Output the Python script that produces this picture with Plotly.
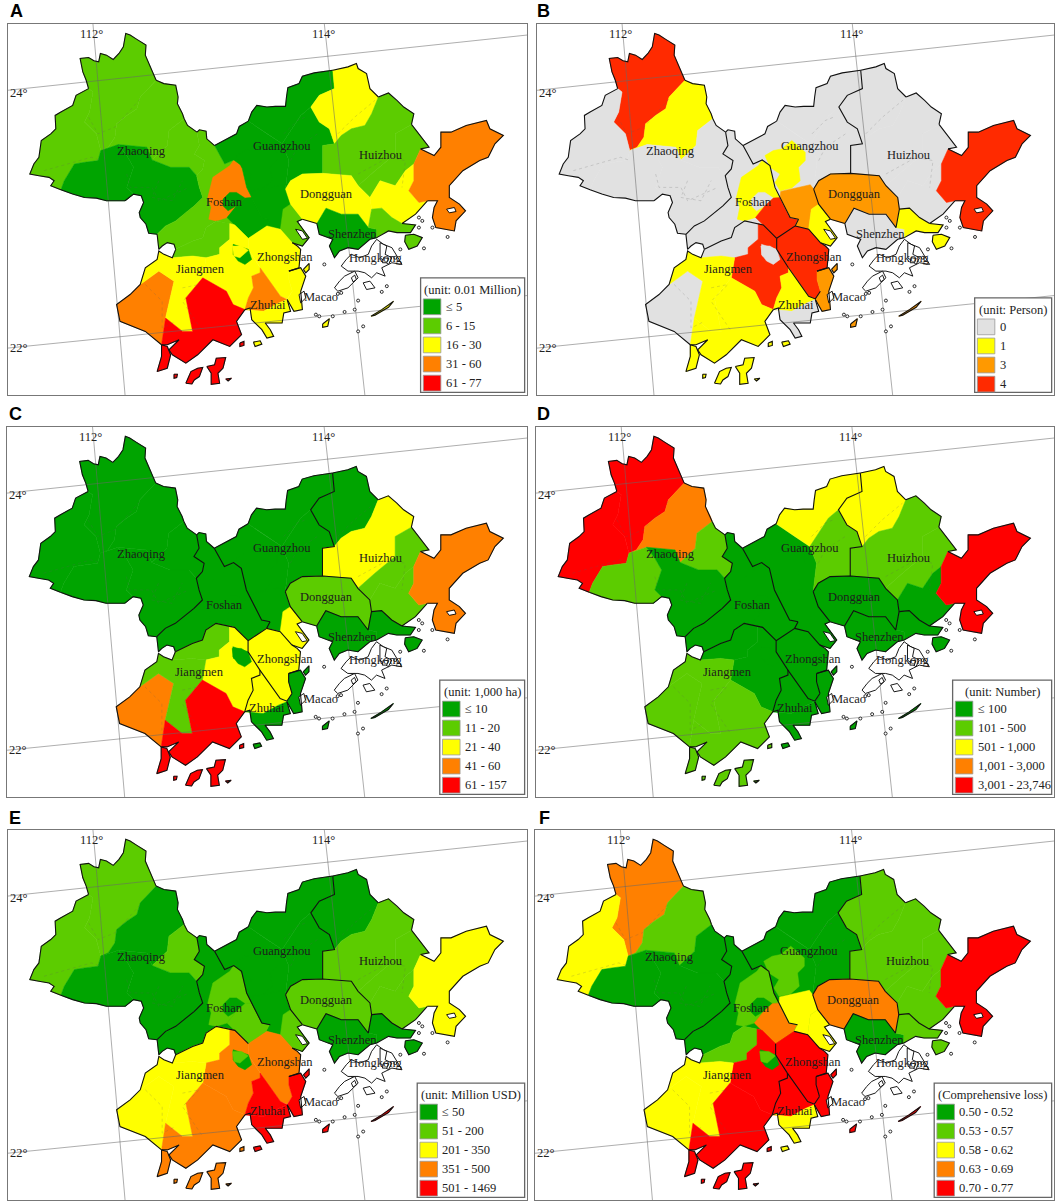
import plotly.graph_objects as go

# map outline, all arcs in the same map units (axes below)
COAST_Z1 = [(262,265),(255,240),(245,215),(237,175),(262,172),(278,182),(292,185),(297,160),(315,165),(335,178),(352,160),(365,140),(372,100),(385,105),(405,118),(432,135),(430,165),(440,190),(448,210),(462,240)]
COAST_Z2 = [(462,240),(485,250),(520,255),(527,290),(525,310),(540,340),(545,355)]
COAST_Z6 = [(545,355),(555,375),(583,395)]
COAST_Z3 = [(180,567),(160,560),(150,555),(160,540),(145,530),(115,525),(88,520),(100,490),(115,470),(122,420),(150,400),(165,385),(163,345),(180,335),(215,315),(225,285),(262,265)]
COAST_Z4 = [(180,567),(215,580),(250,590),(285,592),(315,600),(345,600),(370,600)]
COAST_Z5 = [(465,700),(440,697),(432,670),(415,650),(412,635),(425,605),(418,585),(395,580),(370,600)]
Z1_Z2 = [(462,240),(415,290),(405,325),(375,345),(345,370),(340,410),(320,440),(298,450)]
Z1_Z3 = [(262,265),(275,275),(265,335),(250,365),(285,400),(298,450)]
Z3_Z4 = [(298,450),(290,480),(250,485),(220,490),(190,540),(180,567)]
Z2_LOW_A = [(298,450),(350,432)]
Z2_LOW_B = [(350,432),(435,440),(450,478)]
Z2_LOW_C = [(450,478),(495,435),(500,390),(545,355)]
Z6_Z5 = [(582,525),(560,500),(505,500),(450,478)]
Z4_Z5 = [(370,600),(395,580),(375,560),(395,500),(375,465),(350,432)]
ZF_1 = [(583,395),(590,435),(575,460),(605,480),(600,505),(582,525)]
ZF_2 = [(582,525),(590,560),(600,590),(575,615),(550,635),(520,660),(490,675),(465,700)]

COAST_F_N = [(583,395),(590,388),(610,392),(612,415),(635,435)]
COAST_F_S = [(520,745),(515,730),(495,725),(480,735),(470,745),(465,700)]
FG = [(635,435),(665,490),(692,478),(715,495),(730,560),(745,590),(765,630),(775,650),(800,655)]
F_ZS = [(800,655),(790,675),(735,712)]
FJ = [(735,712),(695,672),(640,660),(610,680),(600,710),(570,720),(520,745)]

COAST_G_W = [(635,435),(665,420),(700,400),(708,378),(735,362)]
COAST_G_N = [(735,362),(745,335),(760,315),(790,320),(815,318),(845,318),(848,290),(852,262),(885,250),(895,228),(930,218),(985,210)]
GH_A = [(985,210),(990,265),(945,285),(920,320)]
GH_B = [(920,320),(945,365),(975,385),(990,430)]
GH_C = [(990,430),(955,435),(955,518)]
G1_G2 = [(920,320),(890,345),(835,430)]
G1_G3 = [(835,430),(790,400),(735,362)]
G2_G3 = [(835,430),(855,480),(845,565)]
DG_TOP_W = [(845,565),(860,540),(895,520),(955,518)]
DG_TOP_E = [(955,518),(1040,525),(1060,555)]
DG_E = [(1060,555),(1095,590),(1100,625),(1090,680)]
DG_S = [(1090,680),(1060,640),(1010,640),(965,622),(938,668)]
DG_COAST = [(938,668),(895,655)]
DG_W = [(895,655),(860,610),(845,565)]
COAST_G6 = [(895,655),(880,662),(915,710),(895,735),(865,725)]
G_ZS = [(865,725),(830,685),(790,675)]

COAST_H1 = [(985,210),(1010,205),(1030,200),(1055,190),(1060,205),(1085,220),(1095,265),(1120,290)]
H1_H2 = [(1120,290),(1100,340),(1080,375),(1040,385),(1010,405),(990,430)]
COAST_H2 = [(1120,290),(1150,278),(1175,300),(1195,320),(1225,340),(1218,372)]
H2_H3 = [(1218,372),(1170,400),(1170,460),(1110,510),(1060,555)]
COAST_H3 = [(1218,372),(1240,400),(1255,420),(1270,440),(1245,445)]
HW_1 = [(1245,445),(1225,490)]
HW_2 = [(1225,490),(1225,540),(1210,570),(1240,605),(1265,600)]
H3_H4 = [(1225,490),(1200,510),(1170,555),(1125,540),(1095,590)]
COAST_H4 = [(1265,600),(1230,640),(1190,668)]
HS = [(1100,625),(1130,622),(1160,650),(1190,668)]
COAST_W = [(1245,445),(1285,465),(1305,440),(1305,395),(1335,395),(1380,375),(1440,360),(1450,385),(1490,405),(1465,430),(1445,470),(1420,480),(1370,510),(1330,555),(1330,590),(1360,610),(1378,630),(1350,660),(1345,690),(1290,680),(1280,650),(1285,620),(1295,600),(1265,600)]
COAST_S2 = [(1190,668),(1230,672),(1215,695),(1175,695),(1150,690),(1130,700),(1115,710)]
S1_S2 = [(1090,680),(1115,685),(1115,710)]
COAST_S1 = [(1115,710),(1095,715),(1060,745),(1030,740),(1005,750),(990,770),(975,735),(985,715),(945,700),(938,668)]

ZS_E = [(865,725),(880,735),(890,745),(885,800),(855,810)]
ZS_Z3 = [(855,810),(855,835),(865,870)]
ZS_S = [(865,870),(850,893),(830,885),(790,830),(770,800)]
ZS_W = [(770,800),(735,745),(735,712)]
Z3_COAST = [(855,810),(890,800),(905,825),(890,870),(895,925),(870,930),(850,895)]
Z3_W = [(850,895),(865,870)]
ZH_N = [(770,800),(770,815),(745,825),(750,860),(735,890),(725,925)]
ZH_COAST = [(725,925),(740,920),(745,955),(775,985),(790,1010),(810,1005),(800,985),(785,965),(835,965),(840,935),(860,930),(850,895)]
ZH_MID = [(725,925),(780,930),(825,905),(850,895)]
ZH_MID_N = [(850,895),(830,885)]

J_COAST_E = [(725,925),(700,960),(715,1000),(680,1035),(630,1015),(585,1060),(550,1085),(510,1060),(500,1045),(530,1015),(495,1030),(478,1030)]
J_COAST_W = [(478,1030),(430,990),(355,960),(345,910),(385,880),(415,850),(430,800),(465,775),(470,750),(485,760),(510,770),(520,745)]
J1_LOW = [(510,770),(570,765),(610,770),(650,760),(650,740),(680,715),(680,668)]
J5_J6 = [(600,830),(550,890),(570,990),(540,990),(490,950)]
J4_E = [(415,850),(470,810),(515,840),(490,950),(478,1030)]
J7_RING = [(478,1030),(495,1035),(505,1060),(495,1100),(465,1110),(478,1065)]


def ring(*arcs):
    pts = []
    for arc in arcs:
        pts.extend(arc)
    return pts


def rev(arc):
    return arc[::-1]


COUNTY_NAMES = ["Z1", "Z3", "Z2", "Z6", "Z4", "Z5", "F1", "F2", "F3", "F4", "G3", "G1", "G2", "G4", "G5", "G6",
                "ZS", "H1", "H2", "H3", "H4", "W", "DG", "S1", "S2", "S3", "J1", "J2", "J3", "J8", "J4", "J5", "J6", "J7",
                "ZH1", "ZH2", "ZH3", "I1", "I2", "I3", "I4", "I5", "I6", "K1", "K2", "K3"]

COUNTY_RINGS = [
    ring(COAST_Z1, Z1_Z2, rev(Z1_Z3)),
    ring(COAST_Z3, Z1_Z3, Z3_Z4),
    ring(rev(Z1_Z2), COAST_Z2, rev(Z2_LOW_C), rev(Z2_LOW_B), rev(Z2_LOW_A)),
    ring(COAST_Z6, ZF_1, Z6_Z5, Z2_LOW_C),
    ring(Z3_Z4, COAST_Z4, Z4_Z5, rev(Z2_LOW_A)),
    ring(Z2_LOW_B, rev(Z6_Z5), ZF_2, COAST_Z5, Z4_Z5),
    ring(COAST_F_N, FG, F_ZS, FJ, COAST_F_S, rev(ZF_2), rev(ZF_1)),
    [(615,590),(630,530),(680,495),(692,478),(715,495),(730,560),(745,590),(725,592),(700,615),(672,650),(640,660),(618,655),(625,620)],
    [(660,595),(680,575),(700,575),(725,592),(700,615),(675,630),(660,615)],
    [(672,650),(700,615),(725,592),(745,590),(765,630),(775,650),(800,655),(790,675),(735,712),(695,672)],
    ring(COAST_G_W, rev(G1_G3), G2_G3, rev(DG_W), COAST_G6, G_ZS, [(800,655)], rev(FG)),
    ring(COAST_G_N, GH_A, G1_G2, G1_G3),
    ring(rev(G1_G2), GH_B, GH_C, rev(DG_TOP_W), rev(G2_G3)),
    [(700,465),(725,450),(750,445),(780,420),(820,455),(820,480),(800,500),(805,540),(780,562),(745,570),(730,545),(745,520),(715,500)],
    [(747,572),(835,552),(845,565),(860,610),(838,625),(830,685),(790,675),(800,655),(775,650),(765,630),(745,590)],
    [(838,625),(860,610),(895,655),(880,662),(915,710),(895,735),(865,725),(830,685)],
    ring(G_ZS, rev(ZS_W), rev(ZS_S), rev(ZS_Z3), rev(ZS_E)),
    ring(COAST_H1, H1_H2, rev(GH_B), rev(GH_A)),
    ring(rev(H1_H2), COAST_H2, H2_H3, rev(DG_TOP_E), rev(GH_C)),
    ring(COAST_H3, HW_1, H3_H4, [(1060,555)], rev(H2_H3)),
    ring(rev(H3_H4), HW_2, COAST_H4, rev(HS)),
    ring(COAST_W, rev(HW_2), rev(HW_1)),
    ring(DG_TOP_W, DG_TOP_E, DG_E, DG_S, DG_COAST, DG_W),
    ring(rev(DG_S), S1_S2, COAST_S1),
    ring(HS, COAST_S2, rev(S1_S2)),
    [(1200,703),(1225,700),(1250,710),(1235,735),(1210,745),(1198,722)],
    ring([(680,668),(640,660),(610,680),(600,710),(570,720),(520,745),(510,770)], J1_LOW),
    [(680,668),(695,672),(735,712),(735,745),(770,800),(770,815),(745,825),(750,860),(735,890),(725,925),(690,910),(670,870),(600,830),(610,770),(650,760),(650,740),(680,715)],
    [(690,730),(735,745),(745,775),(725,790),(705,780),(690,760)],
    [(688,735),(715,735),(735,748),(710,770),(692,765)],
    ring([(345,910),(385,880)], J4_E, [(430,990),(355,960)]),
    ring([(470,750),(485,760),(510,770),(570,765),(610,770)], J5_J6, rev(J4_E)[1:], [(430,800),(465,775)]),
    ring([(670,870),(690,910)], J_COAST_E, rev(J4_E)[:2], rev(J5_J6)),
    J7_RING,
    ring([(770,815),(745,825),(750,860),(735,890),(725,925)], ZH_MID, ZH_MID_N, [(790,830),(770,800)]),
    ring(ZH_COAST, rev(ZH_MID)),
    ring(Z3_COAST, Z3_W, rev(ZS_Z3)),
    [(550,1145),(558,1125),(565,1110),(585,1100),(600,1098),(590,1125),(575,1135),(568,1147)],
    [(612,1095),(635,1090),(640,1070),(668,1068),(660,1100),(645,1115),(650,1145),(625,1148),(625,1115)],
    [(515,1118),(525,1118),(523,1128),(515,1130)],
    [(668,1132),(685,1130),(675,1138)],
    [(710,1025),(722,1020),(722,1032),(710,1035)],
    [(750,1022),(770,1018),(775,1028),(755,1035)],
    [(898,805),(915,787),(915,805),(905,815)],
    [(955,968),(975,952),(970,975),(955,978)],
    [(1098,945),(1130,925),(1165,900),(1150,918),(1110,942)],
]

# class index of every county per panel, same order as COUNTY_NAMES
CLASS_A = [1,1,1,1,0,0, 1,3,0,0, 0,0,0,0,0,1, 2, 2,1,1,2, 3, 2, 0,1,1, 1,2,0,2, 3,2,4,4, 3,2,2, 4,4,4,4,4,2, 2,2,2]
CLASS_B = [3,0,1,0,0,0, 0,1,0,3, 0,0,0,1,2,1, 3, 0,0,0,0, 3, 2, 0,1,1, 0,3,0,0, 0,1,1,1, 1,0,2, 1,1,1,1,1,1, 2,2,2]
CLASS_C = [0,0,0,0,0,0, 0,0,0,0, 0,0,0,0,0,2, 2, 0,2,1,1, 3, 1, 0,0,0, 1,2,0,0, 3,1,4,4, 2,0,0, 4,4,4,4,4,0, 0,0,0]
CLASS_D = [4,4,3,1,1,0, 0,0,0,0, 0,2,1,0,0,0, 0, 2,1,1,0, 4, 0, 0,0,0, 0,0,0,0, 1,1,1,1, 0,0,0, 1,1,1,1,1,0, 0,0,0]
CLASS_E = [1,1,0,1,0,0, 0,1,0,1, 0,0,0,0,0,1, 3, 0,1,1,1, 2, 1, 0,0,0, 2,3,0,1, 2,2,3,3, 4,4,4, 3,3,3,3,3,4, 4,4,4]
CLASS_F = [3,2,1,0,0,0, 0,1,0,3, 0,0,0,1,2,2, 4, 1,1,1,1, 4, 3, 0,1,1, 1,4,0,1, 2,2,4,4, 4,2,4, 4,4,4,4,4,2, 4,4,4]

PALETTE = ["#00A400", "#5CCC00", "#FFFF00", "#FF8000", "#FF0000"]
PALETTE_B = ["#E1E1E1", "#FFFF00", "#FF9900", "#FF2A00"]

# outer coast, black in every panel
COAST_ARCS = [COAST_Z1, COAST_Z2, COAST_Z6, COAST_Z3, COAST_Z4, COAST_Z5, COAST_F_N, COAST_F_S, COAST_G_W, COAST_G_N,
              DG_COAST, COAST_G6, COAST_H1, COAST_H2, COAST_H3, COAST_W, COAST_H4, COAST_S2, COAST_S1, ZS_E,
              Z3_COAST, ZH_COAST, J_COAST_E, J_COAST_W, J7_RING + J7_RING[:1]]
BORDER_ARCS = {
    "ZF": ZF_1 + ZF_2[1:], "FG": FG, "FJ": FJ, "F_ZS": F_ZS, "GH": GH_A + GH_B[1:] + GH_C[1:],
    "DG": DG_TOP_W + DG_TOP_E[1:] + DG_E[1:] + DG_S[1:], "DGW": DG_W, "HS": HS, "GZS": G_ZS,
    "ZSW": ZS_W, "ZSS": ZS_S, "JZ": ZH_N, "Z3": ZS_Z3,
}
PANEL_BORDERS = {
    "A": [],
    "B": ["ZF", "FG", "FJ", "F_ZS", "GH", "DG", "DGW", "HS", "GZS", "ZSW", "ZSS"],
    "C": list(BORDER_ARCS),
    "D": list(BORDER_ARCS),
    "E": ["ZF", "FG", "FJ", "GH", "DG", "DGW", "HS"],
    "F": ["ZF", "FG", "GH", "DG", "DGW", "HS", "ZSW", "ZSS", "JZ", "Z3", "GZS"],
}
# faint county lines inside the cities
COUNTY_LINES = [
    [(130,510),(200,490),(270,470),(300,480)], [(375,520),(385,560),(450,560),(470,600),(560,560)],
    [(262,350),(290,400),(340,380),(420,290)], [(470,540),(450,590),(510,600),(540,540)],
    [(840,400),(880,360),(905,350)], [(860,480),(880,440),(940,400)],
    [(1000,400),(1050,350),(1110,300)], [(1060,520),(1150,470),(1200,480),(1190,560)],
    [(430,850),(480,900),(480,980),(520,960)], [(540,860),(590,850),(540,900),(600,990)],
]

# Hong Kong, Macao and stray islets stay white with a black edge
WHITE_RINGS = [
    [(1010,795),(1025,775),(1040,760),(1065,770),(1090,760),(1100,735),(1115,715),(1135,730),(1160,740),(1175,765),(1190,790),(1160,785),(1130,800),(1140,825),(1115,815),(1100,830),(1080,815),(1060,810),(1030,810)],
    [(990,860),(1005,840),(1020,825),(1050,810),(1060,830),(1045,845),(1030,860),(1000,870)],
    [(1075,845),(1095,840),(1110,860),(1085,865)],
    [(1125,725),(1145,735),(1140,760),(1160,770),(1150,790),(1125,770)],
    [(1135,770),(1150,772),(1145,785),(1132,785)],
    [(1040,830),(1050,822),(1055,835),(1045,842)],
    [(885,880),(900,870),(905,890),(890,905)],
    [(875,685),(895,690),(910,712),(895,715)],
    [(1322,625),(1345,620),(1350,632),(1330,636)],
]
ISLET_X = [960,1010,935,945,985,1020,1050,1060,1075,1060,1250,1240,1280,1325,1255,1145,1130,1000,1185,1170,1240]
ISLET_Y = [790,875,940,945,945,932,925,898,975,990,660,680,680,708,742,855,872,878,745,770,650]

LAT_LON_LINES = [[(22,270),(1560,105)], [(22,1040),(1560,883)], [(275,72),(370,1180)], [(960,72),(1080,1180)]]
DEGREE_LABELS = ["112°", "114°", "24°", "22°"]
DEGREE_X = [270, 957, 55, 55]
DEGREE_Y = [102, 102, 277, 1040]

CITY_LABELS = ["Zhaoqing", "Guangzhou", "Huizhou", "Dongguan", "Foshan", "Shenzhen", "Zhongshan", "Hongkong", "Jiangmen", "Zhuhai", "Macao"]
CITY_X = [420, 835, 1128, 967, 665, 1043, 845, 1112, 592, 792, 950]
CITY_Y = [452, 435, 463, 580, 605, 700, 768, 770, 805, 912, 888]

PANEL_LETTERS = ["A", "B", "C", "D", "E", "F"]
PANEL_CLASSES = [CLASS_A, CLASS_B, CLASS_C, CLASS_D, CLASS_E, CLASS_F]
PANEL_COLORS = [PALETTE, PALETTE_B, PALETTE, PALETTE, PALETTE, PALETTE]
LEGEND_TITLES = ["(unit: 0.01 Million)", "(unit: Person)", "(unit: 1,000 ha)", "(unit: Number)", "(unit: Million USD)", "(Comprehensive loss)"]
LEGEND_LABELS = [
    ["≤ 5", "6 - 15", "16 - 30", "31 - 60", "61 - 77"],
    ["0", "1", "3", "4"],
    ["≤ 10", "11 - 20", "21 - 40", "41 - 60", "61 - 157"],
    ["≤ 100", "101 - 500", "501 - 1,000", "1,001 - 3,000", "3,001 - 23,746"],
    ["≤ 50", "51 - 200", "201 - 350", "351 - 500", "501 - 1469"],
    ["0.50 - 0.52", "0.53 - 0.57", "0.58 - 0.62", "0.63 - 0.69", "0.70 - 0.77"],
]

W, H = 1059, 1204
# panel frames in pixels: left, right, top, bottom
FRAMES = [(7.5, 527, 24, 395), (537, 1054, 24, 395), (7, 527, 427, 797), (536, 1054, 427, 797), (7.5, 527, 830, 1200), (535, 1054, 830, 1200)]
LETTER_POS = [(16, 11), (543, 11), (15, 414), (543, 414), (15, 818), (544, 818)]
LEGEND_LEFT = [1245, 1324, 1302, 1259, 1235, 1205]
LEGEND_TOP = [830, 890, 830, 830, 830, 830]
X_RANGE = [22, 1560]
Y_RANGE = [1180, 72]
SERIF = "Liberation Serif"

fig = go.Figure()


def xy(pts):
    return [p[0] for p in pts], [p[1] for p in pts]


def join_arcs(arcs):
    xs, ys = [], []
    for arc in arcs:
        ax, ay = xy(arc)
        xs += ax + [None]
        ys += ay + [None]
    return xs, ys


for i, letter in enumerate(PANEL_LETTERS):
    n = "" if i == 0 else str(i + 1)
    xa, ya = "x" + n, "y" + n
    left, right, top, bottom = FRAMES[i]

    for pts, cls in zip(COUNTY_RINGS, PANEL_CLASSES[i]):
        px, py = xy(pts)
        color = PANEL_COLORS[i][cls]
        fig.add_trace(go.Scatter(x=px + px[:1], y=py + py[:1], mode="lines", fill="toself", fillcolor=color,
                                 line=dict(color=color, width=0.5), xaxis=xa, yaxis=ya,
                                 showlegend=False, hoverinfo="skip"))

    dx, dy = join_arcs(COUNTY_LINES)
    fig.add_trace(go.Scatter(x=dx, y=dy, mode="lines", line=dict(color="rgba(90,90,90,0.3)", width=0.7, dash="dot"),
                             xaxis=xa, yaxis=ya, showlegend=False, hoverinfo="skip"))

    gx, gy = join_arcs(LAT_LON_LINES)
    fig.add_trace(go.Scatter(x=gx, y=gy, mode="lines", line=dict(color="rgba(105,105,105,0.6)", width=0.9),
                             xaxis=xa, yaxis=ya, showlegend=False, hoverinfo="skip"))

    for pts in WHITE_RINGS:
        px, py = xy(pts)
        fig.add_trace(go.Scatter(x=px + px[:1], y=py + py[:1], mode="lines", fill="toself", fillcolor="white",
                                 line=dict(color="black", width=0.9), xaxis=xa, yaxis=ya,
                                 showlegend=False, hoverinfo="skip"))
    fig.add_trace(go.Scatter(x=ISLET_X, y=ISLET_Y, mode="markers",
                             marker=dict(color="white", size=3, line=dict(color="black", width=0.8)),
                             xaxis=xa, yaxis=ya, showlegend=False, hoverinfo="skip"))

    # black lines: coast everywhere, city borders only where the panel has them
    islands = [COUNTY_RINGS[COUNTY_NAMES.index(k)] + COUNTY_RINGS[COUNTY_NAMES.index(k)][:1]
               for k in ["S3", "I1", "I2", "I3", "I4", "I5", "I6", "K1", "K2", "K3"]]
    arcs = COAST_ARCS + islands + [BORDER_ARCS[k] for k in PANEL_BORDERS[letter]]
    cx, cy = join_arcs(arcs)
    fig.add_trace(go.Scatter(x=cx, y=cy, mode="lines", line=dict(color="#111111", width=1.1),
                             xaxis=xa, yaxis=ya, showlegend=False, hoverinfo="skip"))

    axis_common = dict(showgrid=False, zeroline=False, showticklabels=False, ticks="", showline=True,
                       mirror=True, linecolor="#777777", linewidth=1.2)
    fig.update_layout({
        "xaxis" + n: dict(domain=[left / W, right / W], range=X_RANGE, anchor=ya, **axis_common),
        "yaxis" + n: dict(domain=[1 - bottom / H, 1 - top / H], range=Y_RANGE, anchor=xa, **axis_common),
    })

    for text, tx, ty in zip(CITY_LABELS, CITY_X, CITY_Y):
        fig.add_annotation(x=tx, y=ty, xref=xa, yref=ya, text=text, showarrow=False,
                           font=dict(family=SERIF, size=12.5, color="#1c1c1c"))
    for text, tx, ty in zip(DEGREE_LABELS, DEGREE_X, DEGREE_Y):
        fig.add_annotation(x=tx, y=ty, xref=xa, yref=ya, text=text, showarrow=False,
                           font=dict(family=SERIF, size=12.5, color="#222222"))

    # legend box
    box_l, box_t = LEGEND_LEFT[i], LEGEND_TOP[i]
    fig.add_shape(type="rect", x0=box_l, x1=1553, y0=box_t, y1=1172, xref=xa, yref=ya,
                  fillcolor="white", line=dict(color="#666666", width=1.3))
    fig.add_annotation(x=(box_l + 1553) / 2, y=box_t + 35, xref=xa, yref=ya, text=LEGEND_TITLES[i], showarrow=False,
                       font=dict(family=SERIF, size=12.5, color="#222222"))
    for j, label in enumerate(LEGEND_LABELS[i]):
        y0 = box_t + 63 + 57 * j
        fig.add_shape(type="rect", x0=box_l + 8, x1=box_l + 60, y0=y0, y1=y0 + 47, xref=xa, yref=ya,
                      fillcolor=PANEL_COLORS[i][j], line=dict(color="#999999", width=0.8))
        fig.add_annotation(x=box_l + 68, y=y0 + 24, xref=xa, yref=ya, text=label, showarrow=False, xanchor="left",
                           font=dict(family=SERIF, size=12.5, color="#222222"))

    lx, ly = LETTER_POS[i]
    fig.add_annotation(x=lx / W, y=1 - ly / H, xref="paper", yref="paper", text="<b>" + letter + "</b>", showarrow=False,
                       xanchor="center", yanchor="middle",
                       font=dict(family="Liberation Sans", size=18, color="black"))

fig.update_layout(width=W, height=H, margin=dict(l=0, r=0, t=0, b=0), autosize=False,
                  paper_bgcolor="white", plot_bgcolor="white", showlegend=False)
fig.write_html("out.html", config={"displayModeBar": False}, post_script="document.body.style.margin='0';")
